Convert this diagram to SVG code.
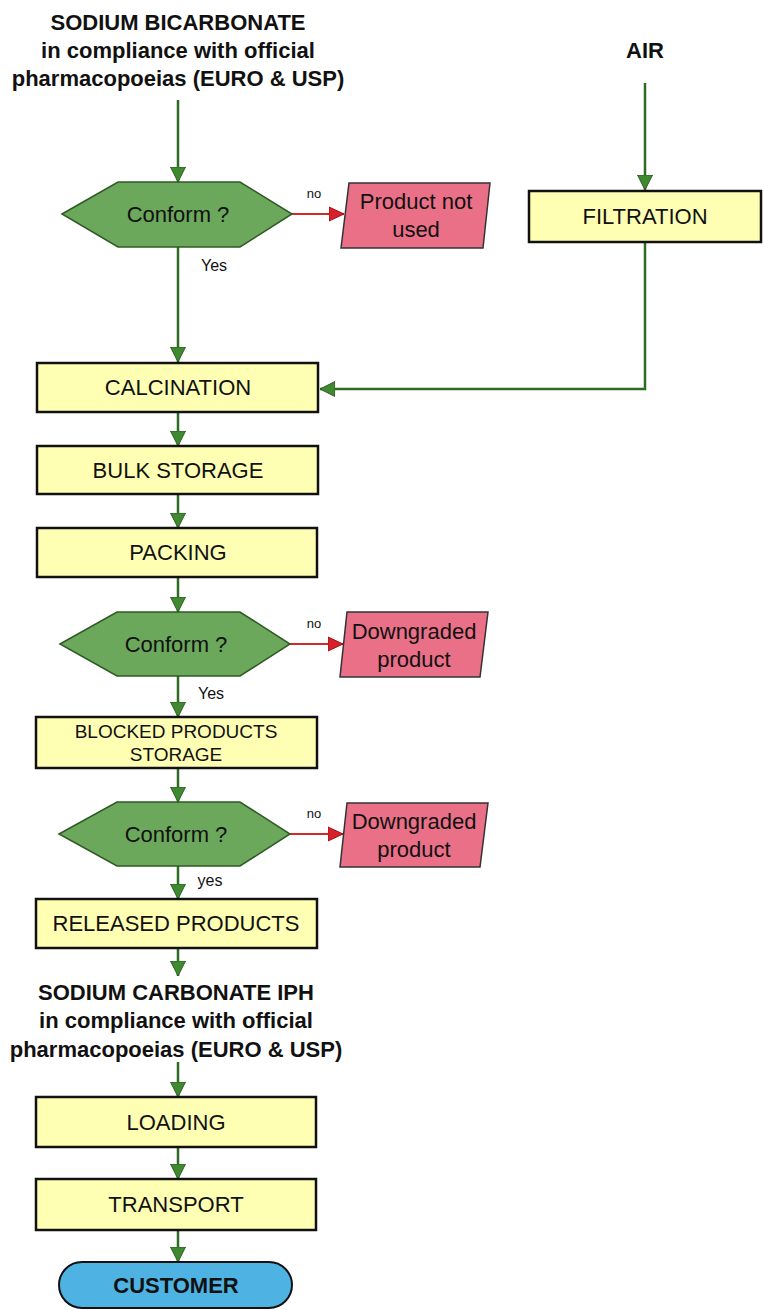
<svg xmlns="http://www.w3.org/2000/svg" width="764" height="1310" viewBox="0 0 764 1310">
<defs>
<marker id="ga" markerUnits="userSpaceOnUse" markerWidth="18" markerHeight="18" refX="15" refY="9" orient="auto">
<path d="M0,1.5 L15,9 L0,16.5 Z" fill="#3f8a30" stroke="#2b5e1f" stroke-width="1"/>
</marker>
<marker id="ra" markerUnits="userSpaceOnUse" markerWidth="18" markerHeight="18" refX="15" refY="9" orient="auto">
<path d="M0,2 L15,9 L0,16 Z" fill="#d8202a" stroke="#a01018" stroke-width="1"/>
</marker>
<style>
.box{fill:#ffffb3;stroke:#111;stroke-width:2.5}
.hex{fill:#6ca85c;stroke:#2f5a25;stroke-width:1.5}
.rej{fill:#ea7088;stroke:#333;stroke-width:1.5}
.cust{fill:#4eb3e3;stroke:#111;stroke-width:2}
.g{stroke:#2f6b22;stroke-width:2.5;fill:none}
.r{stroke:#d02a2a;stroke-width:2;fill:none}
text{font-family:"Liberation Sans",Arial,sans-serif;fill:#111;text-anchor:middle}
.t{font-size:22px}
.h{font-size:22px}
.b{font-size:22px;font-weight:bold}
.s{font-size:13px}
.y{font-size:16px}
</style>
</defs>
<g id="connectors">
<path class="g" d="M178,100 V182" marker-end="url(#ga)"/>
<path class="g" d="M645,83 V190" marker-end="url(#ga)"/>
<path class="g" d="M178,247 V362" marker-end="url(#ga)"/>
<path class="g" d="M645,242 V389 H320" marker-end="url(#ga)"/>
<path class="g" d="M178,412 V446" marker-end="url(#ga)"/>
<path class="g" d="M178,494 V528" marker-end="url(#ga)"/>
<path class="g" d="M178,577 V612" marker-end="url(#ga)"/>
<path class="g" d="M178,676 V717" marker-end="url(#ga)"/>
<path class="g" d="M178,768 V802" marker-end="url(#ga)"/>
<path class="g" d="M178,866 V899" marker-end="url(#ga)"/>
<path class="g" d="M178,948 V976" marker-end="url(#ga)"/>
<path class="g" d="M178,1062 V1097" marker-end="url(#ga)"/>
<path class="g" d="M178,1147 V1179" marker-end="url(#ga)"/>
<path class="g" d="M178,1230 V1262" marker-end="url(#ga)"/>
<path class="r" d="M292,214 H344" marker-end="url(#ra)"/>
<path class="r" d="M290,644 H343" marker-end="url(#ra)"/>
<path class="r" d="M290,834 H343" marker-end="url(#ra)"/>
<text class="s" x="314" y="198">no</text>
<text class="y" x="214" y="271">Yes</text>
<text class="s" x="314" y="628">no</text>
<text class="y" x="211" y="699">Yes</text>
<text class="s" x="314" y="818">no</text>
<text class="y" x="210" y="886">yes</text>
</g>
<g id="start">
<text class="b" x="178" y="30">SODIUM BICARBONATE</text>
<text class="b" x="178" y="58">in compliance with official</text>
<text class="b" x="178" y="86">pharmacopoeias (EURO &amp; USP)</text>
</g>
<g id="air"><text class="b" x="645" y="58">AIR</text></g>
<g id="conform1">
<polygon class="hex" points="62,214 118,182 240,182 292,214 240,247 118,247"/>
<text class="h" x="178" y="222">Conform ?</text>
</g>
<g id="notused">
<polygon class="rej" points="349,183 490,183 483,248 341,248"/>
<text class="h" x="416" y="209">Product not</text>
<text class="h" x="416" y="237">used</text>
</g>
<g id="filtration">
<rect class="box" x="529" y="191" width="232" height="51"/>
<text class="t" x="645" y="224">FILTRATION</text>
</g>
<g id="calcination">
<rect class="box" x="37" y="363" width="281" height="49"/>
<text class="t" x="178" y="395">CALCINATION</text>
</g>
<g id="bulk">
<rect class="box" x="37" y="446" width="281" height="48"/>
<text class="t" x="178" y="478">BULK STORAGE</text>
</g>
<g id="packing">
<rect class="box" x="37" y="528" width="280" height="49"/>
<text class="t" x="178" y="560">PACKING</text>
</g>
<g id="conform2">
<polygon class="hex" points="60,644 117,612 240,612 290,644 240,676 117,676"/>
<text class="h" x="176" y="652">Conform ?</text>
</g>
<g id="downgraded1">
<polygon class="rej" points="347,612 488,612 480,677 340,677"/>
<text class="h" x="414" y="639">Downgraded</text>
<text class="h" x="414" y="667">product</text>
</g>
<g id="blocked">
<rect class="box" x="36" y="717" width="281" height="51"/>
<text class="t" x="176" y="738" style="font-size:19px">BLOCKED PRODUCTS</text>
<text class="t" x="176" y="761" style="font-size:19px">STORAGE</text>
</g>
<g id="conform3">
<polygon class="hex" points="59,834 117,802 240,802 290,834 240,866 117,866"/>
<text class="h" x="176" y="842">Conform ?</text>
</g>
<g id="downgraded2">
<polygon class="rej" points="347,803 488,803 480,867 340,867"/>
<text class="h" x="414" y="829">Downgraded</text>
<text class="h" x="414" y="857">product</text>
</g>
<g id="released">
<rect class="box" x="36" y="899" width="281" height="49"/>
<text class="t" x="176" y="931">RELEASED PRODUCTS</text>
</g>
<g id="product">
<text class="b" x="176" y="1000">SODIUM CARBONATE IPH</text>
<text class="t" x="176" y="1028" style="font-weight:600">in compliance with official</text>
<text class="b" x="176" y="1057">pharmacopoeias (EURO &amp; USP)</text>
</g>
<g id="loading">
<rect class="box" x="36" y="1097" width="280" height="50"/>
<text class="t" x="176" y="1130">LOADING</text>
</g>
<g id="transport">
<rect class="box" x="36" y="1179" width="280" height="51"/>
<text class="t" x="176" y="1212">TRANSPORT</text>
</g>
<g id="customer">
<rect class="cust" x="59" y="1262" width="233" height="46" rx="23"/>
<text class="b" x="176" y="1293">CUSTOMER</text>
</g>
</svg>
